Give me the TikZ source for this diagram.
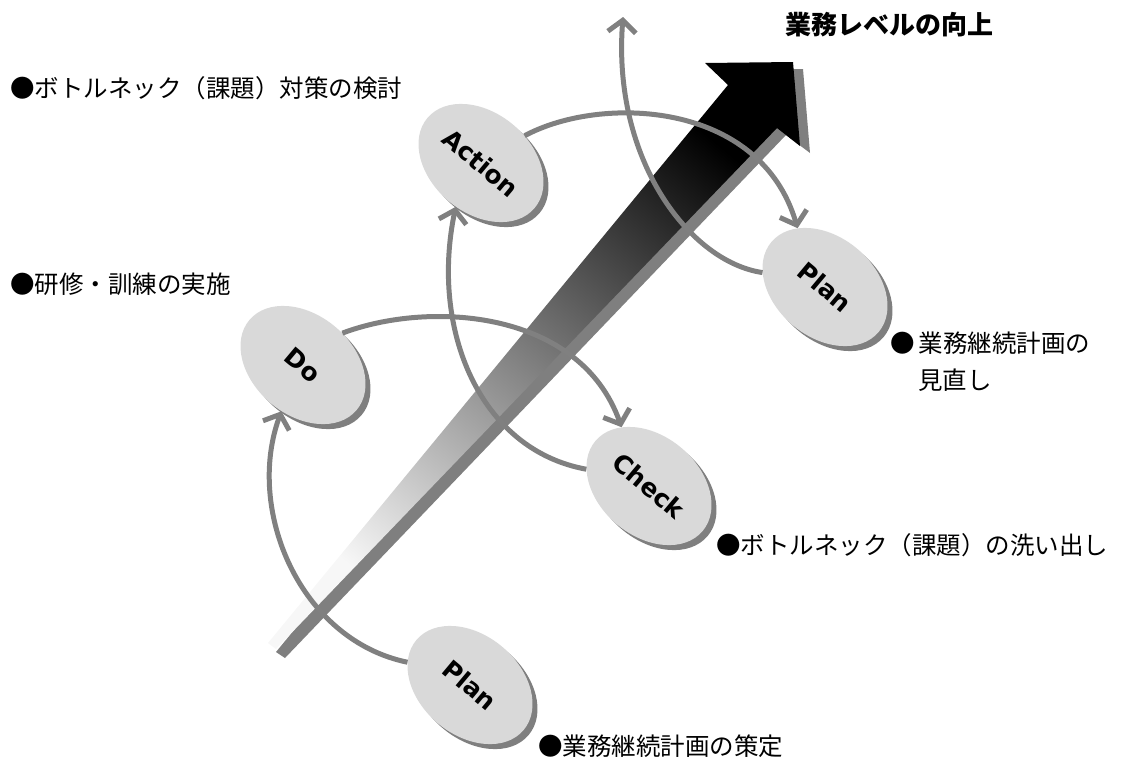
\documentclass[tikz,border=0pt]{standalone}
\usepackage{fontspec}
\newfontfamily\jp{Noto Sans CJK JP}
\newfontfamily\lat{DejaVu Sans}
\usetikzlibrary{shapes.geometric,arrows.meta}
\definecolor{arcgray}{HTML}{808080}
\definecolor{ellfill}{HTML}{D9D9D9}
\definecolor{shadowgray}{HTML}{7F7F7F}
\begin{document}
\begin{tikzpicture}[x=1pt,y=-1pt,
  pdcaell/.style={ellipse, minimum width=140pt, minimum height=100pt, inner sep=0pt, fill=ellfill, rotate=-40, font=\lat\bfseries\fontsize{25}{28}\selectfont},
  pdcashadow/.style={ellipse, minimum width=140pt, minimum height=100pt, inner sep=0pt, fill=shadowgray, rotate=-40},
  cyc/.style={draw=arcgray, line width=5pt, -{Straight Barb[length=12pt,width=28pt]}},
  lbl/.style={anchor=west, inner sep=0pt, font=\jp\fontsize{24.5}{28}\selectfont}
]
\useasboundingbox (0,0) rectangle (1134,769);
% big arrow shadow
\fill[shadowgray] (276,652) -- (285,658) -- (786,135) -- (810,153) -- (803,69) -- (714,70) -- (737,92) -- cycle;
% big arrow
\shade[top color=black, middle color=black!40, bottom color=black!3, shading angle=-40]
  (268,643) -- (276,649) -- (777,128) -- (800,146) -- (793,62) -- (705,63) -- (728,85) -- cycle;
% ellipse shadows
\node[pdcashadow] (planbs) at (475,690) {};
\node[pdcashadow] (dos) at (308,370) {};
\node[pdcashadow] (checks) at (654,491) {};
\node[pdcashadow] (actions) at (486,168) {};
\node[pdcashadow] (planas) at (830,292) {};
% ellipses
\node[pdcaell] (planb) at (470,685) {Plan};
\node[pdcaell] (do) at (303,365) {Do};
\node[pdcaell] (check) at (649,486) {Check};
\node[pdcaell] (action) at (481,163) {Action};
\node[pdcaell] (plana) at (825,287) {Plan};
\coordinate (upend) at (623,17);
% cycle arcs
\draw[cyc] (planb.200) .. controls (300,640) and (245,510) .. (do.285);
\draw[cyc] (do.79) .. controls (430,300) and (580,310) .. (check.155);
\draw[cyc] (check.205) .. controls (480,450) and (430,330) .. (action.280);
\draw[cyc] (action.72) .. controls (600,95) and (760,100) .. (plana.155);
\draw[cyc] (plana.207) .. controls (690,262) and (612,160) .. (upend);
% labels
\node[anchor=west, inner sep=0pt, font=\jp\bfseries\fontsize{26}{30}\selectfont] (title) at (785,25) {業務レベルの向上};
\node[lbl] (lab1) at (10,88) {●ボトルネック（課題）対策の検討};
\node[lbl] (lab2) at (10,284) {●研修・訓練の実施};
\node[lbl] (lab3a) at (890,343) {●\hspace{4pt}業務継続計画の};
\node[lbl] (lab3b) at (918,380) {見直し};
\node[lbl] (lab4) at (716,545) {●ボトルネック（課題）の洗い出し};
\node[lbl] (lab5) at (538,746) {●業務継続計画の策定};
\end{tikzpicture}
\end{document}
